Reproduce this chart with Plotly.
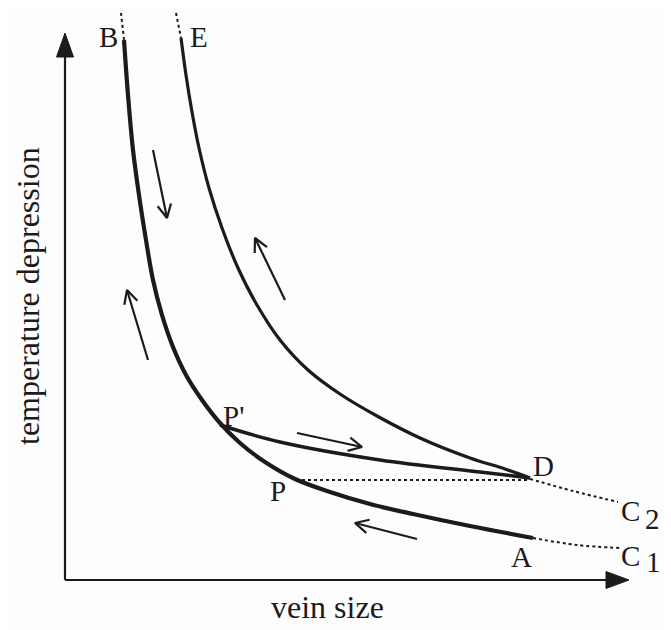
import math
import plotly.graph_objects as go

# ---- schematic data (origin at the axis corner) ----
lower_x = [59, 63, 68, 74, 81, 88, 97, 108, 121, 137, 155, 175, 200, 230, 265, 305, 348, 405, 468]
lower_y = [540, 485, 430, 385, 340, 300, 265, 233, 205, 180, 157, 137, 118, 101, 88, 76, 66, 54, 42]

upper_x = [116, 121, 127, 134, 144, 157, 173, 192, 215, 243, 275, 312, 355, 405, 440, 465]
upper_y = [542, 505, 468, 432, 392, 352, 312, 275, 240, 210, 186, 164, 142, 122, 111, 102]

pd_x = [155, 215, 315, 415, 465]
pd_y = [155, 138, 120, 108, 102]

horiz_x = [231, 465]
horiz_y = [100, 100]

c2_x = [465, 508, 553]
c2_y = [101, 89, 78]
c1_x = [468, 512, 555]
c1_y = [42, 35, 32]

topB_x = [56, 59]
topB_y = [567, 540]
topE_x = [111, 116]
topE_y = [567, 542]

# direction arrows: (tail, tip)
arrow_tails = [(88, 430), (83, 220), (220, 280), (232, 147), (352, 41)]
arrow_tips = [(102, 362), (62, 290), (190, 342), (297, 133), (290, 57)]

# labels
label_text = ["B", "E", "P'", "P", "D", "A", "C", "2", "C", "1"]
label_x = [43, 134, 168, 213, 478, 456, 565, 587, 565, 588]
label_y = [543, 543, 164, 89, 114, 23, 69, 61, 24, 18]

x_axis_end = 564
y_axis_end = 547

INK = "#1b1b1b"
FONT = "Liberation Serif"

fig = go.Figure()

def line(x, y, w, dash="solid", shape="spline"):
    fig.add_trace(go.Scatter(x=x, y=y, mode="lines",
                             line=dict(color=INK, width=w, dash=dash, shape=shape, smoothing=1.0),
                             hoverinfo="skip", showlegend=False))

# dotted extensions
line(topB_x, topB_y, 2, "dot", "linear")
line(topE_x, topE_y, 2, "dot", "linear")
line(horiz_x, horiz_y, 2, "dot", "linear")
line(c2_x, c2_y, 2, "dot")
line(c1_x, c1_y, 2, "dot")

# main curves
line(lower_x, lower_y, 4.2)
line(upper_x, upper_y, 3.2)
line(pd_x, pd_y, 3.5)

# axes
line([0, 0], [0, y_axis_end - 20], 2.2, shape="linear")
line([0, x_axis_end - 20], [0, 0], 2.2, shape="linear")
fig.add_trace(go.Scatter(x=[-8.5, 0, 8.5, -8.5], y=[y_axis_end - 24, y_axis_end, y_axis_end - 24, y_axis_end - 24],
                         mode="lines", fill="toself", fillcolor=INK, line=dict(color=INK, width=1),
                         hoverinfo="skip", showlegend=False))
fig.add_trace(go.Scatter(x=[x_axis_end - 23, x_axis_end, x_axis_end - 23, x_axis_end - 23], y=[-8.5, 0, 8.5, -8.5],
                         mode="lines", fill="toself", fillcolor=INK, line=dict(color=INK, width=1),
                         hoverinfo="skip", showlegend=False))

# direction arrows with open V heads
for (tx, ty), (hx, hy) in zip(arrow_tails, arrow_tips):
    ang = math.atan2(hy - ty, hx - tx)
    L, a = 15, math.radians(27)
    lx = hx - L * math.cos(ang - a)
    ly = hy - L * math.sin(ang - a)
    rx = hx - L * math.cos(ang + a)
    ry = hy - L * math.sin(ang + a)
    fig.add_trace(go.Scatter(x=[tx, hx, None, lx, hx, rx], y=[ty, hy, None, ly, hy, ry], mode="lines",
                             line=dict(color=INK, width=2.2), hoverinfo="skip", showlegend=False))

for t, x, y in zip(label_text, label_x, label_y):
    fig.add_annotation(x=x, y=y, text=t, showarrow=False, xanchor="center", yanchor="middle",
                       font=dict(family=FONT, size=29, color=INK))

fig.add_annotation(x=-37, y=284, text="temperature depression", textangle=-90, showarrow=False,
                   xanchor="center", yanchor="middle", font=dict(family=FONT, size=32, color=INK))
fig.add_annotation(x=262, y=-27, text="vein size", showarrow=False,
                   xanchor="center", yanchor="middle", font=dict(family=FONT, size=32, color=INK))

# page body has an 8px margin; ranges are offset so the drawing sits where the reference has it
fig.update_layout(width=671, height=630, margin=dict(l=0, r=0, t=0, b=0, pad=0),
                  paper_bgcolor="#fdfdfd", plot_bgcolor="#fdfdfd",
                  xaxis=dict(range=[-57, 614], visible=False, fixedrange=True),
                  yaxis=dict(range=[-58, 572], visible=False, fixedrange=True))

fig.write_html("out.html")
